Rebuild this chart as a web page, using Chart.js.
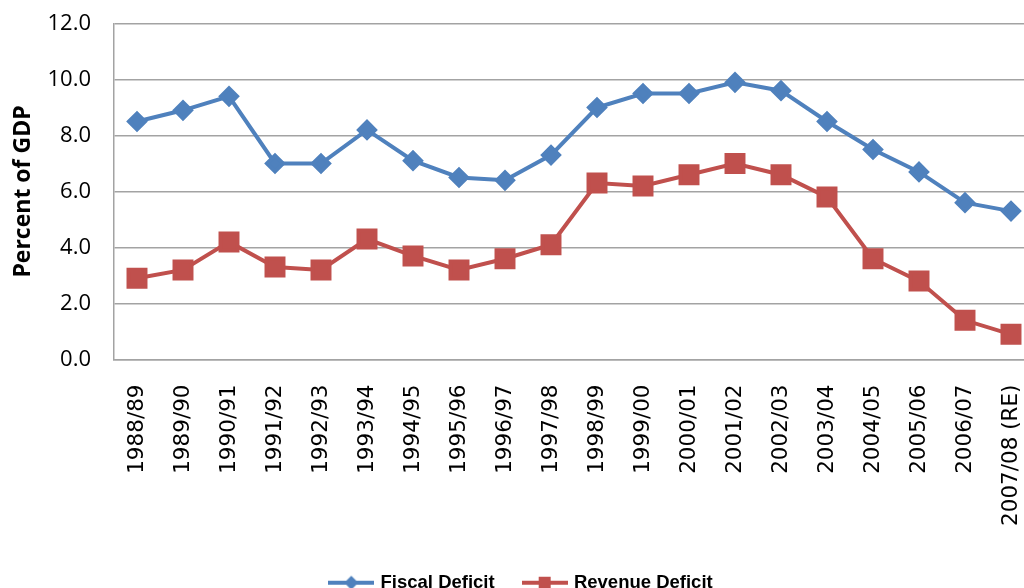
<!DOCTYPE html>
<html>
<head>
  <meta charset="UTF-8" />
  <title>Fiscal and Revenue Deficit</title>
  <style>
    html, body { margin: 0; padding: 0; background: #fff; overflow: hidden; }
    #wrap { position: relative; width: 1044px; height: 602px; }
  </style>
</head>
<body>
  <div id="wrap"><canvas id="deficitChart"></canvas></div>
  <script src="https://cdn.jsdelivr.net/npm/chart.js"></script>
  <script>
    const years = ['1988/89', '1989/90', '1990/91', '1991/92', '1992/93', '1993/94', '1994/95',
      '1995/96', '1996/97', '1997/98', '1998/99', '1999/00', '2000/01', '2001/02', '2002/03',
      '2003/04', '2004/05', '2005/06', '2006/07', '2007/08 (RE)'];
    const fiscalDeficit = [8.5, 8.9, 9.4, 7.0, 7.0, 8.2, 7.1, 6.5, 6.4, 7.3,
      9.0, 9.5, 9.5, 9.9, 9.6, 8.5, 7.5, 6.7, 5.6, 5.3];
    const revenueDeficit = [2.9, 3.2, 4.2, 3.3, 3.2, 4.3, 3.7, 3.2, 3.6, 4.1,
      6.3, 6.2, 6.6, 7.0, 6.6, 5.8, 3.6, 2.8, 1.4, 0.9];
    const yTicks = [0, 2, 4, 6, 8, 10, 12];

    const blue = '#4F81BD';
    const red = '#C0504D';
    const gridGray = '#a3a3a3';

    // legend icon: short line with the marker in the middle, like excel
    function legendIcon(color, shape) {
      const c = document.createElement('canvas');
      c.width = 46; c.height = 16;
      const g = c.getContext('2d');
      g.strokeStyle = color;
      g.lineWidth = 4;
      g.beginPath(); g.moveTo(0, 8); g.lineTo(46, 8); g.stroke();
      g.fillStyle = color;
      g.beginPath();
      if (shape === 'diamond') {
        g.moveTo(23, 1); g.lineTo(30, 8); g.lineTo(23, 15); g.lineTo(16, 8);
      } else {
        g.rect(17, 2, 12, 12);
      }
      g.fill();
      return c;
    }

    const icons = [legendIcon(blue, 'diamond'), legendIcon(red, 'square')];

    new Chart(document.getElementById('deficitChart'), {
      type: 'line',
      data: {
        labels: years,
        datasets: [{
          label: 'Fiscal Deficit',
          data: fiscalDeficit,
          borderColor: blue,
          backgroundColor: blue,
          borderWidth: 4,
          pointStyle: 'rectRot',
          pointRadius: 8,
          pointHoverRadius: 8,
          tension: 0
        }, {
          label: 'Revenue Deficit',
          data: revenueDeficit,
          borderColor: red,
          backgroundColor: red,
          borderWidth: 4,
          pointStyle: 'rect',
          pointRadius: 12,
          pointHoverRadius: 12,
          tension: 0
        }]
      },
      options: {
        responsive: true,
        maintainAspectRatio: false,
        animation: false,
        layout: { autoPadding: false, padding: { top: 23.5, right: 10, bottom: 0, left: 10 } },
        plugins: {
          tooltip: { enabled: false },
          legend: {
            position: 'bottom',
            labels: {
              usePointStyle: true,
              pointStyleWidth: 40,
              padding: 30,
              color: '#000',
              font: { family: "'Liberation Sans Narrow', 'Liberation Sans', sans-serif", size: 18.5, weight: 'bold' },
              generateLabels: chart => chart.data.datasets.map((ds, i) => ({
                text: ds.label,
                pointStyle: icons[i],
                fillStyle: ds.borderColor,
                strokeStyle: ds.borderColor,
                lineWidth: 0,
                datasetIndex: i
              }))
            }
          }
        },
        scales: {
          x: {
            offset: true,
            grid: { display: false, drawTicks: false },
            border: { display: true, color: gridGray, width: 1.5 },
            ticks: {
              autoSkip: false,
              minRotation: 90,
              maxRotation: 90,
              padding: 25,
              color: '#000',
              font: { family: "'DejaVu Sans', sans-serif", size: 21.5 }
            },
            afterFit: scale => { scale.height = 184; scale.paddingRight = 0; }
          },
          y: {
            min: 0,
            max: 12,
            afterBuildTicks: scale => { scale.ticks = yTicks.map(v => ({ value: v })); },
            grid: { color: gridGray, lineWidth: 1.5, drawTicks: false },
            border: { display: true, color: gridGray, width: 1.5 },
            ticks: {
              padding: 23,
              color: '#000',
              font: { family: "'Open Sans', sans-serif", size: 22 },
              callback: v => v.toFixed(1)
            },
            title: {
              display: true,
              text: 'Percent of GDP',
              color: '#000',
              padding: { top: 0, bottom: 0 },
              font: { family: "'Open Sans', sans-serif", size: 23, weight: 'bold' }
            },
            afterFit: scale => {
              scale.width = 104;
              scale.paddingTop = 0;
              scale.paddingBottom = 0;
            }
          }
        }
      }
    });
  </script>
</body>
</html>
